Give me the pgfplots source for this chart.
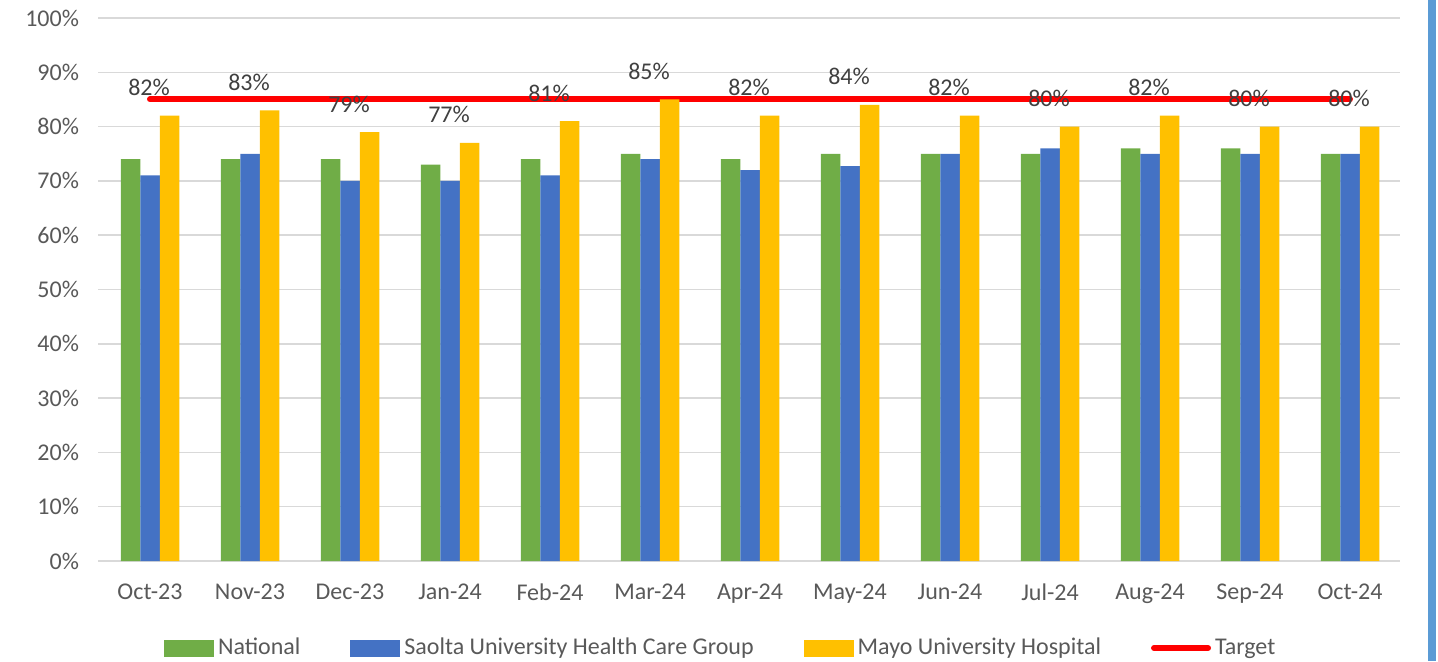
\documentclass[border=0pt]{standalone}
\usepackage{fontspec}
\setmainfont{Carlito}
\usepackage{pgfplots}
\pgfplotsset{compat=1.18}
\definecolor{natgreen}{HTML}{70AD47}
\definecolor{saoblue}{HTML}{4472C4}
\definecolor{mayoyel}{HTML}{FFC000}
\definecolor{txtgray}{HTML}{595959}
\definecolor{lblgray}{HTML}{404040}
\definecolor{gridgray}{HTML}{D9D9D9}
\definecolor{edgeblue}{HTML}{5B9BD5}
\pgfplotsset{
  barleg/.style={legend image code/.code={\fill[##1,draw=none] (0pt,-4.25pt) rectangle (25pt,4.25pt);}},
  lineleg/.style={legend image code/.code={\draw[##1,line cap=round] (0pt,0pt) -- (27pt,0pt);}},
}

\begin{document}
\begin{tikzpicture}
\useasboundingbox (-49pt,-50pt) rectangle (670pt,280.5pt);
\fill[edgeblue] (665pt,-50pt) rectangle (669pt,280.5pt);
\begin{axis}[
    at={(0,0)}, anchor=south west,
    scale only axis, width=651pt, height=271.5pt,
    xmin=-0.52, xmax=12.5, ymin=0, ymax=100,
    xtick={0,...,12},
    xticklabels={Oct-23,Nov-23,Dec-23,Jan-24,Feb-24,Mar-24,Apr-24,May-24,Jun-24,Jul-24,Aug-24,Sep-24,Oct-24},
    ytick={0,10,...,100},
    yticklabels={0\%,10\%,20\%,30\%,40\%,50\%,60\%,70\%,80\%,90\%,100\%},
    major tick length=0pt,
    ymajorgrids, grid style={gridgray, line width=0.75pt},
    axis lines*=left,
    y axis line style={draw=none},
    x axis line style={gridgray, line width=0.75pt, -},
    tick label style={font=\fontsize{12}{14}\selectfont, text=txtgray},
    xticklabel style={yshift=-8pt},
    yticklabel style={xshift=-6pt},
    legend style={at={(0.479,0)}, anchor=center, yshift=-43.5pt, draw=none, fill=none,
      legend columns=-1, font=\fontsize{12}{14}\selectfont, text=txtgray,
      /tikz/every even column/.append style={column sep=23pt}},
    legend cell align=left,
    clip=false,
]
% target line drawn first so that the labels sit above it
\addplot[red, line width=3pt, line cap=round, forget plot] coordinates {(0,85) (12,85)};
\addplot[ybar, bar width=9.75pt, bar shift=-9.75pt, fill=natgreen, draw=none, barleg] coordinates {
(0,74) (1,74) (2,74) (3,73) (4,74) (5,75) (6,74) (7,75) (8,75) (9,75) (10,76) (11,76) (12,75)};
\addplot[ybar, bar width=9.75pt, bar shift=0pt, fill=saoblue, draw=none, barleg] coordinates {
(0,71) (1,75) (2,70) (3,70) (4,71) (5,74) (6,72) (7,72.7) (8,75) (9,76) (10,75) (11,75) (12,75)};
\addplot[ybar, bar width=9.75pt, bar shift=9.75pt, fill=mayoyel, draw=none, barleg,
    nodes near coords={\pgfmathprintnumber[assume math mode=true]{\pgfplotspointmeta}\%},
    nodes near coords style={anchor=base, yshift=10pt, text=lblgray, font=\fontsize{12}{14}\selectfont, xshift=-0.5pt}] coordinates {
(0,82) (1,83) (2,79) (3,77) (4,81) (5,85) (6,82) (7,84) (8,82) (9,80) (10,82) (11,80) (12,80)};
\addlegendimage{red, line width=3pt, lineleg}
\legend{National, Saolta University Health Care Group, Mayo University Hospital, Target}
\end{axis}
\end{tikzpicture}
\end{document}
